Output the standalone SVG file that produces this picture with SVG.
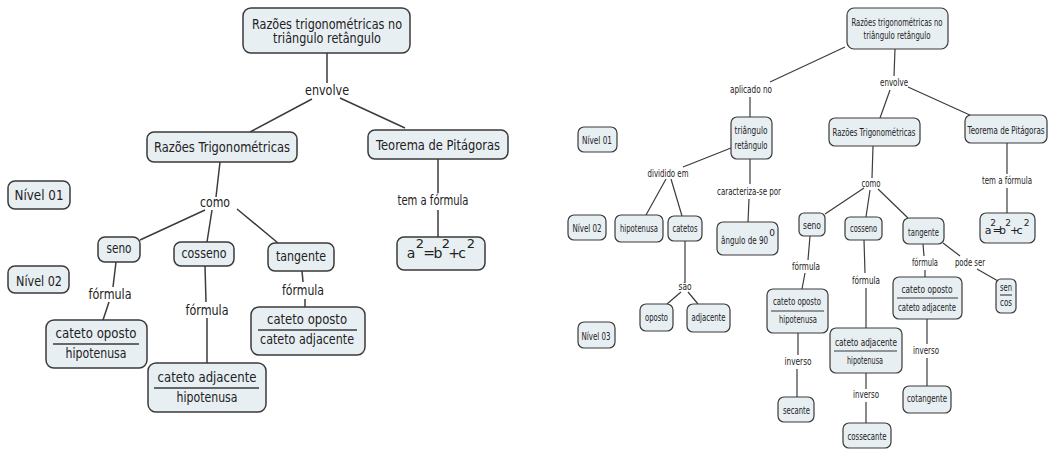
<svg xmlns="http://www.w3.org/2000/svg" width="1049" height="451" viewBox="0 0 1049 451">
<style>
.box{fill:#e8eff3;stroke:#3a3a3a;stroke-width:1.5}
.bs{fill:#e8eff3;stroke:#3a3a3a;stroke-width:1.2}
.ln{stroke:#3c3c3c;stroke-width:1.5;fill:none}
.ls{stroke:#3c3c3c;stroke-width:1.2;fill:none}
.fl{stroke:#3a3a3a;stroke-width:1.5}
.fs{stroke:#3a3a3a;stroke-width:1.1}
text{font-family:"DejaVu Sans","Liberation Sans",sans-serif;fill:#222;text-anchor:middle}
.t{font-size:14px}
.u{font-size:13px}
.s{font-size:11px}
.p{font-size:9px}
</style>
<rect width="1049" height="451" fill="#ffffff"/>

<g id="connectors">
<path class="ln" d="M327 53V83M312 99L250 132M340 98L405 128M220 162L216 197M205 210L140 240M212 210L207 242M237 209L278 243M438 159V193M438 210V237M116 262L113 287M109 302L103 320M205 266L206 302M207 318V363M302 271L303 282M305 299V307"/>
<path class="ls" d="M845 47L770 82M750 97V117M895 49L894 76M890 90L880 118M908 87L972 116M731 148L683 167M750 159V184M749 199L748 222M666 179L646 215M671 179L682 216M685 241V282M681 292L667 304M688 292L698 304M873 146L872 178M864 188L825 214M870 190L866 217M878 189L908 218M1007 143V174M1007 188V213M810 236L808 260M805 273L802 289M864 240L865 273M866 288V328M923 244L924 256M925 270V277M943 243L960 256M977 269L998 281M798 333V355M797 369V397M866 373V389M866 402V423M927 319V344M927 358V386"/>
</g>

<g id="L-top"><rect class="box" x="243" y="8" width="167" height="45" rx="8"/><text class="t" x="327" y="29" textLength="150" lengthAdjust="spacingAndGlyphs">Razões trigonométricas no</text><text class="t" x="327" y="43" textLength="108" lengthAdjust="spacingAndGlyphs">triângulo retângulo</text></g>
<g id="L-envolve"><text class="t" x="327" y="95" textLength="44" lengthAdjust="spacingAndGlyphs">envolve</text></g>
<g id="L-rt"><rect class="box" x="147" y="132" width="150" height="30" rx="7"/><text class="t" x="222" y="152" textLength="136" lengthAdjust="spacingAndGlyphs">Razões Trigonométricas</text></g>
<g id="L-tp"><rect class="box" x="368" y="130" width="140" height="29" rx="7"/><text class="t" x="438" y="150" textLength="124" lengthAdjust="spacingAndGlyphs">Teorema de Pitágoras</text></g>
<g id="L-n1"><rect class="box" x="8" y="181" width="62" height="28" rx="7"/><text class="t" x="39" y="200" textLength="49" lengthAdjust="spacingAndGlyphs">Nível 01</text></g>
<g id="L-como"><text class="t" x="215" y="207" textLength="30" lengthAdjust="spacingAndGlyphs">como</text></g>
<g id="L-tem"><text class="t" x="433" y="205" textLength="71" lengthAdjust="spacingAndGlyphs">tem a fórmula</text></g>
<g id="L-seno"><rect class="box" x="98" y="237" width="42" height="25" rx="7"/><text class="t" x="119" y="253" textLength="25" lengthAdjust="spacingAndGlyphs">seno</text></g>
<g id="L-cosseno"><rect class="box" x="174" y="242" width="60" height="24" rx="7"/><text class="t" x="204" y="258" textLength="45" lengthAdjust="spacingAndGlyphs">cosseno</text></g>
<g id="L-tangente"><rect class="box" x="268" y="243" width="66" height="28" rx="7"/><text class="t" x="301" y="261" textLength="50" lengthAdjust="spacingAndGlyphs">tangente</text></g>
<g id="L-pit"><rect class="box" x="397" y="237" width="88" height="33" rx="7"/>
<text class="t" x="411" y="258">a</text><text class="u" x="420" y="248">2</text><text class="t" x="429" y="258">=</text><text class="t" x="438" y="258">b</text><text class="u" x="446" y="248">2</text><text class="t" x="454" y="258">+</text><text class="t" x="462" y="258">c</text><text class="u" x="471" y="248">2</text></g>
<g id="L-n2"><rect class="box" x="8" y="266" width="61" height="27" rx="7"/><text class="t" x="39" y="286" textLength="46" lengthAdjust="spacingAndGlyphs">Nível 02</text></g>
<g id="L-f1"><text class="t" x="110" y="299" textLength="43" lengthAdjust="spacingAndGlyphs">fórmula</text></g>
<g id="L-f2"><text class="t" x="207" y="315" textLength="43" lengthAdjust="spacingAndGlyphs">fórmula</text></g>
<g id="L-f3"><text class="t" x="303" y="295" textLength="42" lengthAdjust="spacingAndGlyphs">fórmula</text></g>
<g id="L-senf"><rect class="box" x="46" y="320" width="101" height="48" rx="8"/><text class="t" x="96" y="338" textLength="81" lengthAdjust="spacingAndGlyphs">cateto  oposto</text><line class="fl" x1="53" y1="344" x2="139" y2="344"/><text class="t" x="96" y="358" textLength="61" lengthAdjust="spacingAndGlyphs">hipotenusa</text></g>
<g id="L-cosf"><rect class="box" x="148" y="363" width="118" height="49" rx="8"/><text class="t" x="207" y="382" textLength="99" lengthAdjust="spacingAndGlyphs">cateto  adjacente</text><line class="fl" x1="154" y1="388" x2="259" y2="388"/><text class="t" x="207" y="402" textLength="61" lengthAdjust="spacingAndGlyphs">hipotenusa</text></g>
<g id="L-tanf"><rect class="box" x="251" y="307" width="114" height="48" rx="8"/><text class="t" x="307" y="324" textLength="80" lengthAdjust="spacingAndGlyphs">cateto  oposto</text><line class="fl" x1="258" y1="330" x2="357" y2="330"/><text class="t" x="307" y="344" textLength="94" lengthAdjust="spacingAndGlyphs">cateto adjacente</text></g>

<g id="R-top"><rect class="bs" x="847" y="8" width="101" height="41" rx="7"/><text class="s" x="897" y="26" textLength="91" lengthAdjust="spacingAndGlyphs">Razões trigonométricas no</text><text class="s" x="897" y="39" textLength="67" lengthAdjust="spacingAndGlyphs">triângulo retângulo</text></g>
<g id="R-aplicado"><text class="s" x="751" y="93" textLength="42" lengthAdjust="spacingAndGlyphs">aplicado no</text></g>
<g id="R-envolve"><text class="s" x="894" y="86" textLength="28" lengthAdjust="spacingAndGlyphs">envolve</text></g>
<g id="R-tri"><rect class="bs" x="731" y="117" width="41" height="42" rx="6"/><text class="s" x="751" y="134" textLength="33" lengthAdjust="spacingAndGlyphs">triângulo</text><text class="s" x="751" y="149" textLength="33" lengthAdjust="spacingAndGlyphs">retângulo</text></g>
<g id="R-rt"><rect class="bs" x="829" y="118" width="91" height="28" rx="6"/><text class="s" x="874" y="136" textLength="83" lengthAdjust="spacingAndGlyphs">Razões Trigonométricas</text></g>
<g id="R-tp"><rect class="bs" x="965" y="115" width="82" height="28" rx="6"/><text class="s" x="1006" y="134" textLength="77" lengthAdjust="spacingAndGlyphs">Teorema de Pitágoras</text></g>
<g id="R-n1"><rect class="bs" x="578" y="127" width="39" height="25" rx="6"/><text class="s" x="597" y="144" textLength="30" lengthAdjust="spacingAndGlyphs">Nível 01</text></g>
<g id="R-dividido"><text class="s" x="668" y="177" textLength="41" lengthAdjust="spacingAndGlyphs">dividido em</text></g>
<g id="R-caract"><text class="s" x="749" y="195" textLength="64" lengthAdjust="spacingAndGlyphs">caracteriza-se por</text></g>
<g id="R-hip"><rect class="bs" x="615" y="215" width="48" height="27" rx="6"/><text class="s" x="639" y="232" textLength="38" lengthAdjust="spacingAndGlyphs">hipotenusa</text></g>
<g id="R-catetos"><rect class="bs" x="668" y="216" width="34" height="25" rx="6"/><text class="s" x="685" y="232" textLength="25" lengthAdjust="spacingAndGlyphs">catetos</text></g>
<g id="R-n2"><rect class="bs" x="568" y="215" width="38" height="25" rx="6"/><text class="s" x="587" y="232" textLength="29" lengthAdjust="spacingAndGlyphs">Nível 02</text></g>
<g id="R-angulo"><rect class="bs" x="717" y="222" width="61" height="33" rx="6"/><text class="s" x="744.5" y="244" textLength="47" lengthAdjust="spacingAndGlyphs">ângulo de 90</text><text class="p" x="772" y="236">0</text></g>
<g id="R-sao"><text class="s" x="685" y="290" textLength="13" lengthAdjust="spacingAndGlyphs">são</text></g>
<g id="R-oposto"><rect class="bs" x="640" y="304" width="33" height="27" rx="6"/><text class="s" x="656.5" y="321" textLength="23" lengthAdjust="spacingAndGlyphs">oposto</text></g>
<g id="R-adj"><rect class="bs" x="687" y="304" width="43" height="28" rx="6"/><text class="s" x="708.5" y="321" textLength="34" lengthAdjust="spacingAndGlyphs">adjacente</text></g>
<g id="R-n3"><rect class="bs" x="578" y="322" width="37" height="26" rx="6"/><text class="s" x="596" y="340" textLength="29" lengthAdjust="spacingAndGlyphs">Nível 03</text></g>
<g id="R-como"><text class="s" x="871" y="187" textLength="19" lengthAdjust="spacingAndGlyphs">como</text></g>
<g id="R-seno"><rect class="bs" x="799" y="213" width="26" height="23" rx="5"/><text class="s" x="812" y="229" textLength="18" lengthAdjust="spacingAndGlyphs">seno</text></g>
<g id="R-cosseno"><rect class="bs" x="845" y="217" width="37" height="23" rx="5"/><text class="s" x="863.5" y="232" textLength="27" lengthAdjust="spacingAndGlyphs">cosseno</text></g>
<g id="R-tangente"><rect class="bs" x="903" y="218" width="41" height="26" rx="6"/><text class="s" x="923.5" y="236" textLength="31" lengthAdjust="spacingAndGlyphs">tangente</text></g>
<g id="R-tem"><text class="s" x="1007" y="184" textLength="50" lengthAdjust="spacingAndGlyphs">tem a fórmula</text></g>
<g id="R-pit"><rect class="bs" x="980" y="213" width="55" height="30" rx="6"/>
<text class="s" x="988" y="234">a</text><text class="p" x="993" y="226">2</text><text class="s" x="997" y="234">=</text><text class="s" x="1002.5" y="234">b</text><text class="p" x="1008" y="226">2</text><text class="s" x="1014.5" y="234">+</text><text class="s" x="1019.5" y="234">c</text><text class="p" x="1026.5" y="226">2</text></g>
<g id="R-f1"><text class="s" x="806" y="270" textLength="28" lengthAdjust="spacingAndGlyphs">fórmula</text></g>
<g id="R-f2"><text class="s" x="866" y="284" textLength="28" lengthAdjust="spacingAndGlyphs">fórmula</text></g>
<g id="R-f3"><text class="s" x="925" y="266" textLength="26" lengthAdjust="spacingAndGlyphs">fórmula</text></g>
<g id="R-pode"><text class="s" x="970" y="266" textLength="30" lengthAdjust="spacingAndGlyphs">pode ser</text></g>
<g id="R-senf"><rect class="bs" x="767" y="289" width="61" height="44" rx="6"/><text class="s" x="797" y="305" textLength="48" lengthAdjust="spacingAndGlyphs">cateto  oposto</text><line class="fs" x1="771" y1="311" x2="824" y2="311"/><text class="s" x="798" y="323" textLength="38" lengthAdjust="spacingAndGlyphs">hipotenusa</text></g>
<g id="R-cosf"><rect class="bs" x="830" y="328" width="72" height="45" rx="6"/><text class="s" x="866" y="346" textLength="62" lengthAdjust="spacingAndGlyphs">cateto  adjacente</text><line class="fs" x1="834" y1="351" x2="897" y2="351"/><text class="s" x="865" y="364" textLength="36" lengthAdjust="spacingAndGlyphs">hipotenusa</text></g>
<g id="R-tanf"><rect class="bs" x="893" y="277" width="69" height="42" rx="6"/><text class="s" x="927" y="293" textLength="51" lengthAdjust="spacingAndGlyphs">cateto  oposto</text><line class="fs" x1="897" y1="298" x2="958" y2="298"/><text class="s" x="927" y="311" textLength="58" lengthAdjust="spacingAndGlyphs">cateto adjacente</text></g>
<g id="R-sencos"><rect class="bs" x="996" y="279" width="20" height="34" rx="5"/><text class="s" x="1006" y="291" textLength="12" lengthAdjust="spacingAndGlyphs">sen</text><line class="fs" x1="1000" y1="295" x2="1012" y2="295"/><text class="s" x="1006" y="306" textLength="12" lengthAdjust="spacingAndGlyphs">cos</text></g>
<g id="R-inv1"><text class="s" x="798" y="365" textLength="27" lengthAdjust="spacingAndGlyphs">inverso</text></g>
<g id="R-sec"><rect class="bs" x="778" y="397" width="36" height="25" rx="6"/><text class="s" x="796.5" y="414" textLength="27" lengthAdjust="spacingAndGlyphs">secante</text></g>
<g id="R-inv2"><text class="s" x="866" y="398" textLength="26" lengthAdjust="spacingAndGlyphs">inverso</text></g>
<g id="R-cossec"><rect class="bs" x="843" y="423" width="48" height="25" rx="6"/><text class="s" x="867" y="440" textLength="39" lengthAdjust="spacingAndGlyphs">cossecante</text></g>
<g id="R-inv3"><text class="s" x="926" y="354" textLength="26" lengthAdjust="spacingAndGlyphs">inverso</text></g>
<g id="R-cot"><rect class="bs" x="903" y="386" width="48" height="27" rx="6"/><text class="s" x="927" y="402" textLength="40" lengthAdjust="spacingAndGlyphs">cotangente</text></g>
</svg>
